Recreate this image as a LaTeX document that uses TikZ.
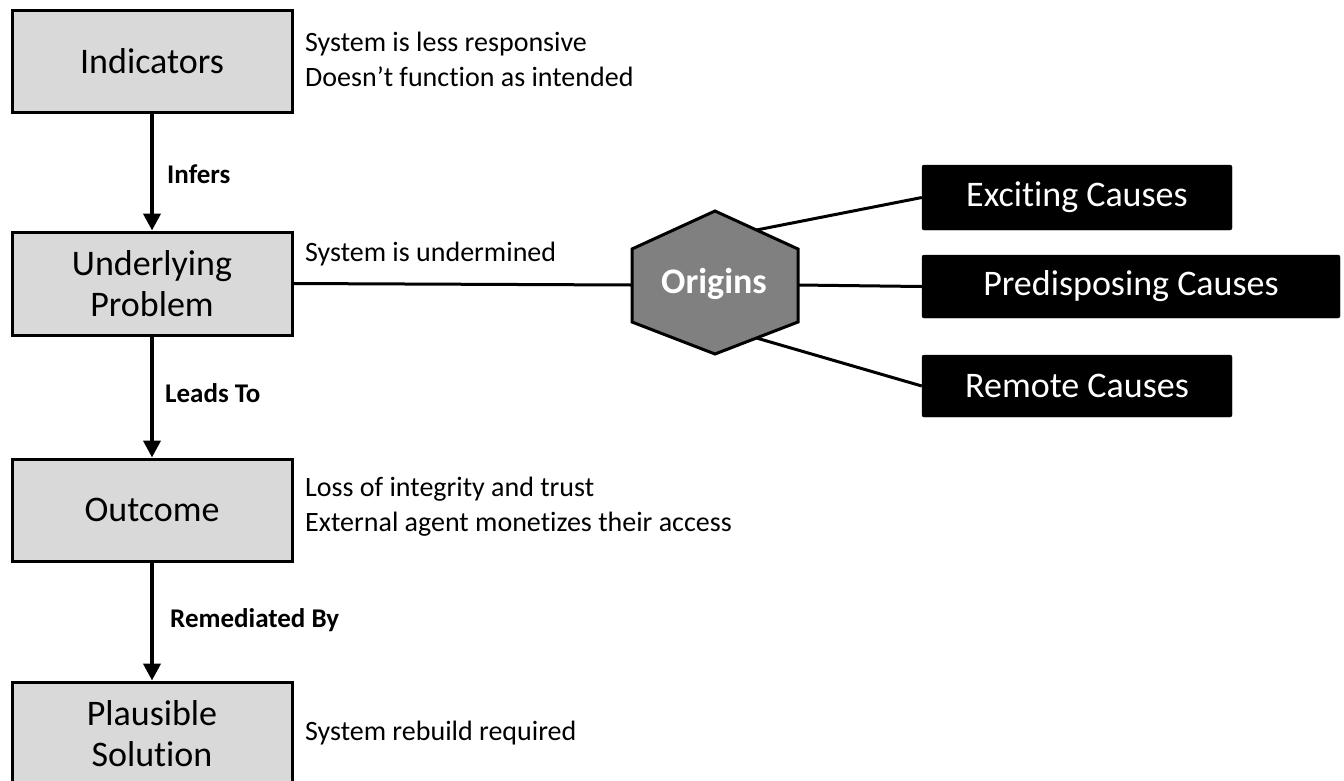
\documentclass[tikz,border=0pt]{standalone}
\usepackage{fontspec}
\setmainfont{Carlito}[Ligatures=CommonOff]
\usetikzlibrary{arrows.meta,calc}
\definecolor{boxgray}{HTML}{D9D9D9}
\definecolor{hexgray}{HTML}{808080}
\begin{document}
\begin{tikzpicture}[x=1pt,y=-1pt,
  grbox/.style={draw=black, line width=3pt, fill=boxgray, minimum width=280pt, minimum height=102pt, inner sep=0pt, align=center, font=\fontsize{36}{41}\selectfont},
  cbox/.style={draw=black, fill=black, text=white, rounded corners=2pt, inner sep=0pt, align=center, font=\fontsize{36}{41}\selectfont},
  side/.style={anchor=west, inner sep=0pt, align=left, font=\fontsize{28}{35}\selectfont},
  lbl/.style={anchor=west, inner sep=0pt, font=\fontsize{27}{32}\selectfont\bfseries},
  arr/.style={line width=4pt, -{Triangle[width=17pt,length=17pt]}},
  conn/.style={line width=3pt},
  hexstyle/.style={draw=black, line width=3pt, fill=hexgray, line join=miter}
]
\clip (0,0) rectangle (1344,780);
\fill[white] (0,0) rectangle (1344,780);

% left column boxes
\node[grbox] (ind) at (152,61) {Indicators};
\node[grbox, minimum height=103pt] (up) at (152,283.5) {Underlying\\Problem};
\node[grbox] (out) at (152,510) {Outcome};
\node[grbox, minimum height=104pt] (sol) at (152,734) {Plausible\\Solution};

% arrows
\draw[arr] (ind.south) -- (up.north);
\draw[arr] (up.south) -- (out.north);
\draw[arr] (out.south) -- (sol.north);

% arrow labels
\node[lbl] (linf) at (167,174) {Infers};
\node[lbl] (llead) at (165,393) {Leads To};
\node[lbl] (lrem) at (170,620) {Remediated By};

% side texts
\node[side] (tind) at (305,59) {System is less responsive\\Doesn’t function as intended};
\node[side] (tup) at (305,254) {System is undermined};
\node[side] (tout) at (305,507) {Loss of integrity and trust\\External agent monetizes their access};
\node[side] (tsol) at (305,733) {System rebuild required};

% hexagon
\coordinate (hT) at (715,211);
\coordinate (hUR) at (798,249);
\coordinate (hLR) at (798,322);
\coordinate (hB) at (715,354);
\coordinate (hLL) at (632,322);
\coordinate (hUL) at (632,249);
\draw[hexstyle] (hT) -- (hUR) -- (hLR) -- (hB) -- (hLL) -- (hUL) -- cycle;
\node[text=white, font=\fontsize{36}{41}\selectfont\bfseries, inner sep=0pt] (org) at (714,284) {Origins};
\coordinate (hL) at (632,285);
\coordinate (hR) at (798,285);
\coordinate (hUE) at ($(hT)!0.5!(hUR)$);
\coordinate (hLE) at ($(hB)!0.5!(hLR)$);

% cause boxes
\node[cbox, minimum width=310pt, minimum height=65pt] (exc) at (1077,197.5) {Exciting Causes};
\node[cbox, minimum width=418pt, minimum height=63pt] (pre) at (1131,286.5) {Predisposing Causes};
\node[cbox, minimum width=310pt, minimum height=62pt] (rem) at (1077,386) {Remote Causes};

% connectors
\draw[conn] (up.east) -- (hL);
\draw[conn] (hUE) -- (exc.west);
\draw[conn] (hR) -- (pre.west);
\draw[conn] (hLE) -- (rem.west);
\end{tikzpicture}
\end{document}
